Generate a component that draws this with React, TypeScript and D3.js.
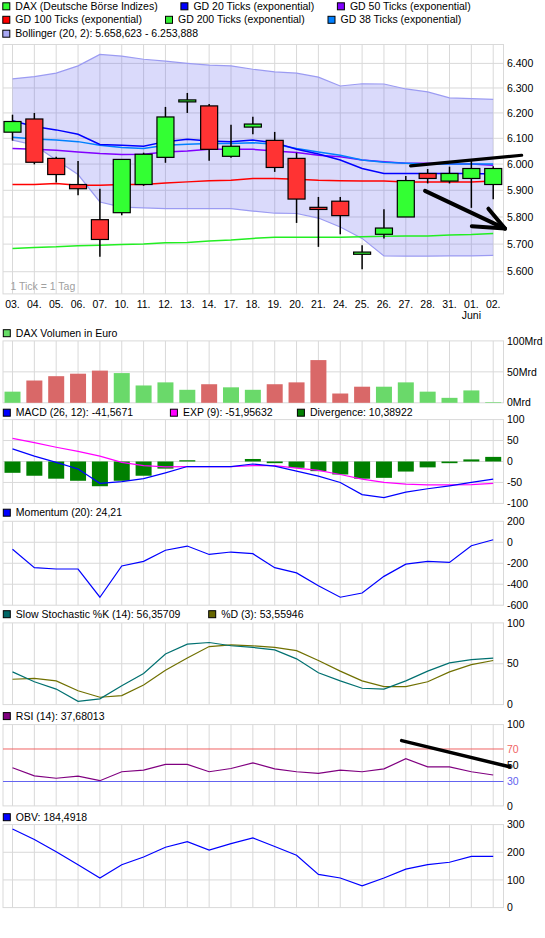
import React from "react";
import * as d3 from "d3";

const days = ["03.","04.","05.","06.","07.","10.","11.","12.","13.","14.","17.","18.","19.","20.","21.","24.","25.","26.","27.","28.","31.","01.","02."];
const openP = [6124,6176,6022,5922,5790,5816,5922,6026,6244,6228,6030,6144,6092,6022,5836,5859,5663,5736,5800,5964,5935,5945,5922];
const highP = [6193,6200,6028,6012,5906,6020,6044,6224,6280,6236,6153,6185,6125,6044,5875,5875,5696,5829,5954,5981,5990,6012,5992];
const lowP = [6091,5999,5930,5881,5654,5806,5917,6005,6200,6013,6024,6116,5970,5778,5690,5736,5609,5721,5800,5926,5926,5834,5866];
const closeP = [6166,6007,5960,5906,5717,6018,6038,6184,6252,6057,6069,6156,5987,5867,5828,5805,5671,5759,5937,5945,5964,5983,5983];

const bollUpper = [6337,6346,6360,6390,6437,6430,6417,6409,6400,6393,6390,6376,6365,6360,6344,6308,6317,6316,6296,6284,6260,6257,6254];
const bollLower = [6093,6074,6016,5960,5856,5837,5834,5831,5831,5831,5831,5822,5814,5813,5796,5763,5721,5657,5656,5656,5657,5657,5659];
const gd20 = [6169,6146,6133,6116,6076,6073,6069,6087,6096,6089,6087,6093,6083,6057,6039,6016,5983,5964,5964,5964,5964,5964,5962];
const gd38 = [6104,6097,6093,6087,6073,6064,6060,6073,6077,6080,6080,6083,6077,6060,6047,6034,6016,6007,6003,6000,6000,6000,6000];
const gd50 = [6060,6057,6053,6047,6041,6037,6038,6047,6051,6057,6057,6057,6051,6045,6034,6028,6016,6009,6003,6003,6000,6000,5996];
const gd100 = [5922,5922,5926,5919,5919,5922,5922,5928,5932,5936,5938,5945,5945,5942,5938,5936,5935,5935,5932,5932,5932,5932,5935];
const gd200 = [5684,5688,5690,5694,5696,5699,5700,5705,5706,5711,5715,5721,5725,5725,5725,5725,5727,5729,5730,5730,5733,5735,5739];
const priceTicks = [6400,6300,6200,6100,6000,5900,5800,5700,5600];

const volume = [18,36,43,47,52,48,28,33,21,30,25,21,30,33,69,15,26,26,33,18,8,20,1];
const volUp = [1,0,0,0,0,1,1,1,1,0,1,1,0,0,0,0,0,1,1,1,1,1,1];

const macd = [30,13,-2,-18,-52,-48,-41,-27,-12,-12,-12,-6,-11,-23,-35,-50,-79,-86,-73,-65,-58,-50,-42];
const macdExp = [55,45,34,24,13,-2,-10,-13,-12,-12,-12,-10,-10,-16,-21,-31,-42,-50,-54,-56,-56,-55,-52];
const divergence = [-27,-34,-41,-46,-59,-46,-34,-17,3,0,0,6,-4,-15,-23,-31,-41,-39,-24,-14,-4,5,11];
const momentum = [-66,-242,-255,-255,-524,-226,-182,-76,-36,-116,-93,-109,-242,-292,-415,-524,-484,-325,-209,-182,-192,-33,24];
const stochK = [40,28,19,4,7,23,38,62,74,76,72,70,67,56,39,29,20,19,29,41,51,55,57];
const stochD = [31,32,29,17,9,11,24,42,57,71,73,72,70,66,54,41,29,22,22,28,40,49,54];
const rsi = [47,37,34,36.5,31,42,44,51,51,42,46,53,45.5,42,40,44,42,45.5,58,48,48,42,38];
const obv = [284,246,202,155,107,155,183,218,238,208,231,252,221,189,120,107,79,107,139,155,164,185,185];

// hand-drawn annotations in data coordinates [index, value]
const trendLine = [[18.22, 5993], [23.3, 6034]];
const arrowShaft = [[18.88, 5898], [22.54, 5757]];
const arrowHead = [[21.02, 5766], [22.54, 5757], [21.78, 5831]];
const rsiLine = [[17.81, 80.3], [22.75, 48.1]];

const FONT = "'Liberation Sans', Arial, sans-serif";
const FS = 10.5;
const GRID = "#d9d9d9";
const L = 3, R = 503.5;

const x = d3.scaleLinear().domain([-0.4348, 22.471]).range([L, R]);
const idx = days.map((_, i) => i);

function Legend({ lx, ly, color, text }: { lx: number; ly: number; color: string; text: string }) {
  return (
    <g>
      <rect x={lx + 0.5} y={ly - 3.5} width={7} height={7} fill={color} stroke="#000" strokeWidth={1} />
      <text x={lx + 13} y={ly} dy="0.35em" fontFamily={FONT} fontSize={FS} fill="#000">{text}</text>
    </g>
  );
}

function Frame({ top, bottom, hLines, y }: { top: number; bottom: number; hLines: number[]; y: (v: number) => number }) {
  return (
    <g>
      {idx.map((i) => (
        <line key={"v" + i} x1={x(i)} x2={x(i)} y1={top} y2={bottom} stroke={GRID} strokeWidth={1} />
      ))}
      {hLines.map((v) => (
        <line key={"h" + v} x1={L} x2={R} y1={y(v)} y2={y(v)} stroke={GRID} strokeWidth={1} />
      ))}
      <rect x={L} y={top} width={R - L} height={bottom - top} fill="none" stroke={GRID} strokeWidth={1} />
    </g>
  );
}

function YLabels({ ticks, y, fmt, colors }: { ticks: number[]; y: (v: number) => number; fmt?: (v: number) => string; colors?: Record<string, string> }) {
  return (
    <g>
      {ticks.map((t) => (
        <text key={t} x={507} y={y(t)} dy="0.35em" fontFamily={FONT} fontSize={FS} fill={colors && colors[String(t)] ? colors[String(t)] : "#000"}>
          {fmt ? fmt(t) : String(t)}
        </text>
      ))}
    </g>
  );
}

export default function App() {
  // main price panel
  const yP = d3.scaleLog().domain([5521, 6478]).range([293.9, 44.5]);
  const lineP = (arr: number[]) => d3.line<number>().x((_, i) => x(i)).y((v) => yP(v))(arr) || "";
  const band = d3.area<number>().x((_, i) => x(i)).y0((_, i) => yP(bollLower[i])).y1((v) => yP(v))(bollUpper) || "";
  const annot = (pts: number[][], ys: (v: number) => number) => d3.line<number[]>().x((p) => x(p[0])).y((p) => ys(p[1]))(pts) || "";
  const fmtPrice = (v: number) => d3.format(".3f")(v / 1000);

  // volume
  const yV = d3.scaleLinear().domain([0, 100]).range([402.8, 340.9]);
  // MACD
  const yM = d3.scaleLinear().domain([-100, 100]).range([503.4, 419.6]);
  const lineM = (arr: number[]) => d3.line<number>().x((_, i) => x(i)).y((v) => yM(v))(arr) || "";
  // momentum
  const yMo = d3.scaleLinear().domain([-600, 200]).range([605.2, 521.3]);
  const lineMo = d3.line<number>().x((_, i) => x(i)).y((v) => yMo(v))(momentum) || "";
  // stochastic
  const yS = d3.scaleLinear().domain([0, 100]).range([704.6, 622.9]);
  const lineS = (arr: number[]) => d3.line<number>().x((_, i) => x(i)).y((v) => yS(v))(arr) || "";
  // RSI
  const yR = d3.scaleLinear().domain([0, 100]).range([805.9, 724.6]);
  const lineR = d3.line<number>().x((_, i) => x(i)).y((v) => yR(v))(rsi) || "";
  // OBV
  const yO = d3.scaleLinear().domain([0, 300]).range([907.6, 824.6]);
  const lineO = d3.line<number>().x((_, i) => x(i)).y((v) => yO(v))(obv) || "";

  const candleW = 17;
  const volW = 16;
  const divW = 16;

  return (
    <svg width={545} height={938} style={{ position: "absolute", left: 0, top: 0, background: "#fff" }}>
      <rect x={0} y={0} width={545} height={938} fill="#fff" />
      {/* top legend */}
      <Legend lx={2.3} ly={6.3} color="#33ff33" text="DAX (Deutsche Börse Indizes)" />
      <Legend lx={180.4} ly={6.3} color="#0000ff" text="GD 20 Ticks (exponential)" />
      <Legend lx={336.9} ly={6.3} color="#8000ff" text="GD 50 Ticks (exponential)" />
      <Legend lx={2.3} ly={19.8} color="#ff0000" text="GD 100 Ticks (exponential)" />
      <Legend lx={165} ly={19.8} color="#33ee33" text="GD 200 Ticks (exponential)" />
      <Legend lx={327.5} ly={19.8} color="#0080ff" text="GD 38 Ticks (exponential)" />
      <Legend lx={2.3} ly={33.7} color="#a8a8f4" text="Bollinger (20, 2): 5.658,623 - 6.253,888" />

      {/* main panel */}
      <Frame top={44.5} bottom={293.9} hLines={priceTicks} y={yP} />
      <path d={band} fill="rgb(88,88,236)" fillOpacity={0.22} stroke="none" />
      <path d={lineP(bollUpper)} fill="none" stroke="#9b9bf2" strokeWidth={1.2} />
      <path d={lineP(bollLower)} fill="none" stroke="#9b9bf2" strokeWidth={1.2} />
      <path d={lineP(gd200)} fill="none" stroke="#22ee22" strokeWidth={1.5} />
      <path d={lineP(gd100)} fill="none" stroke="#ff0000" strokeWidth={1.5} />
      <path d={lineP(gd50)} fill="none" stroke="#8000ff" strokeWidth={1.5} />
      <path d={lineP(gd38)} fill="none" stroke="#0080ff" strokeWidth={1.5} />
      <path d={lineP(gd20)} fill="none" stroke="#0000ff" strokeWidth={1.5} />
      {idx.map((i) => {
        const up = closeP[i] >= openP[i];
        const top = yP(Math.max(openP[i], closeP[i]));
        const bot = yP(Math.min(openP[i], closeP[i]));
        return (
          <g key={"c" + i}>
            <line x1={x(i)} x2={x(i)} y1={yP(highP[i])} y2={yP(lowP[i])} stroke="#000" strokeWidth={1.5} />
            <rect x={x(i) - candleW / 2} y={top} width={candleW} height={Math.max(bot - top, 1.5)} fill={up ? "#33ff33" : "#ff3333"} stroke="#000" strokeWidth={1.2} />
          </g>
        );
      })}
      <YLabels ticks={priceTicks} y={yP} fmt={fmtPrice} />
      <text x={10.4} y={286.3} dy="0.35em" fontFamily={FONT} fontSize={FS} fill="#a0a0a0">1 Tick = 1 Tag</text>
      {days.map((d, i) => (
        <text key={"d" + i} x={x(i)} y={304.3} dy="0.35em" textAnchor="middle" fontFamily={FONT} fontSize={FS} fill="#000">{d}</text>
      ))}
      <text x={x(21)} y={315.8} dy="0.35em" textAnchor="middle" fontFamily={FONT} fontSize={FS} fill="#000">Juni</text>
      <path d={annot(trendLine, yP)} fill="none" stroke="#000" strokeWidth={3.2} strokeLinecap="round" />
      <path d={annot(arrowShaft, yP)} fill="none" stroke="#000" strokeWidth={4} strokeLinecap="round" />
      <path d={annot(arrowHead, yP)} fill="none" stroke="#000" strokeWidth={4} strokeLinecap="round" strokeLinejoin="round" />

      {/* volume */}
      <Legend lx={2.8} ly={333.2} color="#66dd66" text="DAX Volumen in Euro" />
      <Frame top={340.9} bottom={402.8} hLines={[50]} y={yV} />
      {volume.map((v, i) => (
        <rect key={"vb" + i} x={x(i) - volW / 2} y={yV(v)} width={volW} height={yV(0) - yV(v)} fill={volUp[i] ? "#6ad96a" : "#d96868"} />
      ))}
      <YLabels ticks={[100, 50, 0]} y={yV} fmt={(v) => v + "Mrd"} />

      {/* MACD */}
      <Legend lx={2.8} ly={412.7} color="#0000ff" text="MACD (26, 12): -41,5671" />
      <Legend lx={169.9} ly={412.7} color="#ff00ff" text="EXP (9): -51,95632" />
      <Legend lx={296.9} ly={412.7} color="#008000" text="Divergence: 10,38922" />
      <Frame top={419.6} bottom={503.4} hLines={[50, 0, -50]} y={yM} />
      {divergence.map((v, i) => (
        <rect key={"dv" + i} x={x(i) - divW / 2} y={Math.min(yM(v), yM(0))} width={divW} height={Math.abs(yM(v) - yM(0))} fill="#008000" />
      ))}
      <path d={lineM(macdExp)} fill="none" stroke="#ff00ff" strokeWidth={1.2} />
      <path d={lineM(macd)} fill="none" stroke="#0000ff" strokeWidth={1.2} />
      <YLabels ticks={[100, 50, 0, -50, -100]} y={yM} />

      {/* Momentum */}
      <Legend lx={2.8} ly={512.7} color="#0000ff" text="Momentum (20): 24,21" />
      <Frame top={521.3} bottom={605.2} hLines={[0, -200, -400]} y={yMo} />
      <path d={lineMo} fill="none" stroke="#0000ff" strokeWidth={1.2} />
      <YLabels ticks={[200, 0, -200, -400, -600]} y={yMo} />

      {/* Stochastic */}
      <Legend lx={2.8} ly={614.2} color="#006666" text="Slow Stochastic %K (14): 56,35709" />
      <Legend lx={208.2} ly={614.2} color="#666600" text="%D (3): 53,55946" />
      <Frame top={622.9} bottom={704.6} hLines={[50]} y={yS} />
      <path d={lineS(stochD)} fill="none" stroke="#707000" strokeWidth={1.2} />
      <path d={lineS(stochK)} fill="none" stroke="#007070" strokeWidth={1.2} />
      <YLabels ticks={[100, 50, 0]} y={yS} />

      {/* RSI */}
      <Legend lx={2.8} ly={716.1} color="#800080" text="RSI (14): 37,68013" />
      <Frame top={724.6} bottom={805.9} hLines={[]} y={yR} />
      <line x1={L} x2={R} y1={yR(70)} y2={yR(70)} stroke="#f06464" strokeWidth={1} />
      <line x1={L} x2={R} y1={yR(30)} y2={yR(30)} stroke="#6464f0" strokeWidth={1} />
      <path d={lineR} fill="none" stroke="#800080" strokeWidth={1.2} />
      <YLabels ticks={[100, 70, 50, 30, 0]} y={yR} colors={{ "70": "#f06464", "30": "#6464f0" }} />
      <path d={annot(rsiLine, yR)} fill="none" stroke="#000" strokeWidth={3.5} strokeLinecap="round" />

      {/* OBV */}
      <Legend lx={2.8} ly={817.2} color="#0000ff" text="OBV: 184,4918" />
      <Frame top={824.6} bottom={907.6} hLines={[200, 100]} y={yO} />
      <path d={lineO} fill="none" stroke="#0000ff" strokeWidth={1.2} />
      <YLabels ticks={[300, 200, 100, 0]} y={yO} />
    </svg>
  );
}
